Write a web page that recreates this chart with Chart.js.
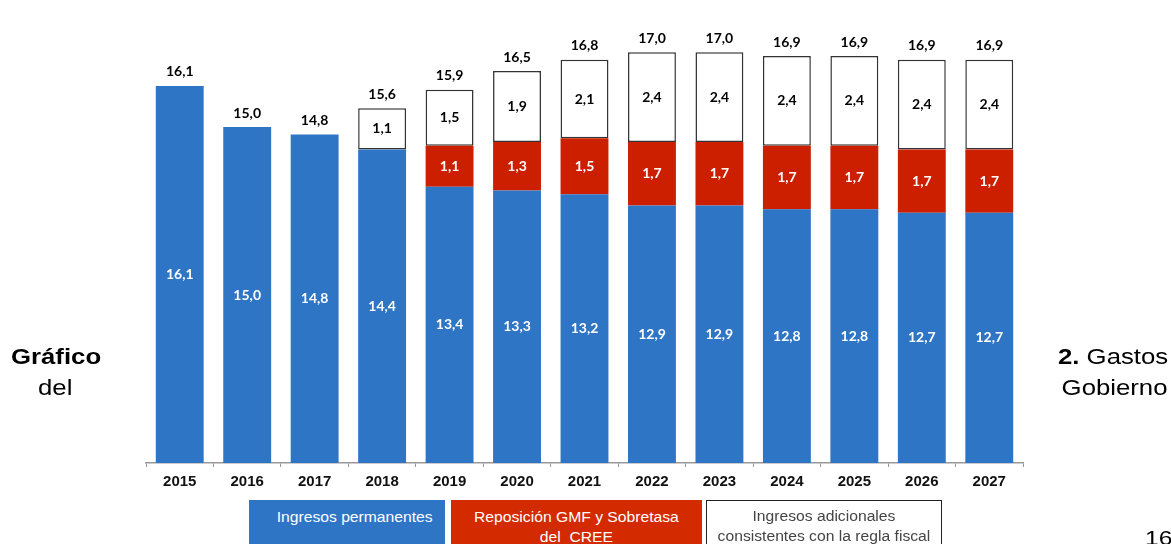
<!DOCTYPE html>
<html>
<head>
<meta charset="utf-8">
<script src="https://cdn.jsdelivr.net/npm/chart.js@4"></script>
<style>
  html, body { margin: 0; padding: 0; background: #fff; }
  body { width: 1171px; height: 544px; overflow: hidden; position: relative; font-family: "Liberation Sans", Arial, sans-serif; }
  #wrap { position: absolute; left: 0; top: 0; width: 1171px; height: 544px; }
  .side { position: absolute; font-size: 22px; color: #000; line-height: 1; transform: scaleX(1.17); }
  .side.l { transform-origin: left center; }
  .side.r { transform-origin: right center; }
  .legend-box { position: absolute; top: 500px; height: 60px; font-size: 14px; text-align: center; line-height: 20px; box-sizing: border-box; padding-top: 7px; }
  .legend-box span { display: inline-block; transform: scaleX(1.12); }
</style>
</head>
<body>
<div id="wrap"><canvas id="chart"></canvas></div>

<div class="side l" style="left:11px; top:346px; font-weight:bold;">Gráfico</div>
<div class="side l" style="left:38px; top:377px;">del</div>
<div class="side r" style="right:3px; top:346px;"><b>2.</b> Gastos</div>
<div class="side r" style="right:3px; top:377px;">Gobierno</div>
<div class="side l" style="left:1145px; top:527px; font-size:21px;">16</div>

<div class="legend-box" style="left:249px; width:196px; background:#2f75c5; color:#fff; padding-left:16px;"><span>Ingresos permanentes</span></div>
<div class="legend-box" style="left:451px; width:251px; background:#d42a00; color:#fff;"><span>Reposición GMF y Sobretasa<br>del&nbsp; CREE</span></div>
<div class="legend-box" style="left:706px; width:236px; border:1.5px solid #222; color:#444; padding-top:5px;"><span>Ingresos adicionales<br>consistentes con la regla fiscal</span></div>

<script>
document.addEventListener("DOMContentLoaded", () => {

  // ==============================
  // DATA
  // ==============================
  const years = ["2015", "2016", "2017", "2018", "2019", "2020", "2021", "2022", "2023", "2024", "2025", "2026", "2027"];
  const permanentes = [16.1, 15.0, 14.8, 14.4, 13.4, 13.3, 13.2, 12.9, 12.9, 12.8, 12.8, 12.7, 12.7];
  const reposicion = [null, null, null, null, 1.1, 1.3, 1.5, 1.7, 1.7, 1.7, 1.7, 1.7, 1.7];
  const adicionales = [null, null, null, 1.1, 1.5, 1.9, 2.1, 2.4, 2.4, 2.4, 2.4, 2.4, 2.4];
  const totales = [16.1, 15.0, 14.8, 15.6, 15.9, 16.5, 16.8, 17.0, 17.0, 16.9, 16.9, 16.9, 16.9];

  const fmt = v => v.toFixed(1).replace(".", ",");

  // ==============================
  // LABELS PLUGIN
  // ==============================
  const labelColors = ["#fff", "#fff", "#000"];

  const barLabels = {
    id: "barLabels",
    afterDatasetsDraw(chart) {
      const ctx = chart.ctx;
      const bottom = chart.chartArea.bottom;
      ctx.save();
      ctx.font = "bold 14px Lato, 'Open Sans', sans-serif";
      ctx.textAlign = "center";
      ctx.textBaseline = "middle";

      chart.data.datasets.forEach((ds, i) => {
        const meta = chart.getDatasetMeta(i);
        meta.data.forEach((bar, j) => {
          const v = ds.data[j];
          if (v === null) return;
          const base = Math.min(bar.base, bottom);
          ctx.fillStyle = labelColors[i];
          ctx.fillText(fmt(v), bar.x, (bar.y + base) / 2);
        });
      });

      // totals above each stack
      ctx.fillStyle = "#000";
      totales.forEach((t, j) => {
        let top = Infinity;
        chart.data.datasets.forEach((ds, i) => {
          if (ds.data[j] === null) return;
          const bar = chart.getDatasetMeta(i).data[j];
          top = Math.min(top, bar.y);
        });
        ctx.fillText(fmt(t), chart.getDatasetMeta(0).data[j].x, top - 14);
      });
      ctx.restore();
    }
  };

  // ==============================
  // CHART
  // ==============================
  const ctx = document.getElementById("chart");

  new Chart(ctx, {
    type: "bar",
    data: {
      labels: years,
      datasets: [
        {
          label: "Ingresos permanentes",
          data: permanentes,
          backgroundColor: "#2f75c5",
          borderWidth: 0
        },
        {
          label: "Reposición GMF y Sobretasa del CREE",
          data: reposicion,
          backgroundColor: "#cc1f00",
          borderWidth: 0
        },
        {
          label: "Ingresos adicionales consistentes con la regla fiscal",
          data: adicionales,
          backgroundColor: "#ffffff",
          borderColor: "#333",
          borderWidth: 1.5,
          borderSkipped: false
        }
      ]
    },
    options: {
      responsive: true,
      maintainAspectRatio: false,
      animation: false,
      layout: { padding: { left: 146, right: 148, top: 15, bottom: 47 } },
      plugins: {
        legend: { display: false },
        tooltip: { enabled: false }
      },
      datasets: {
        bar: { barPercentage: 0.71, categoryPercentage: 1 }
      },
      scales: {
        x: {
          stacked: true,
          grid: {
            drawOnChartArea: false,
            drawTicks: true,
            tickLength: 4,
            color: "#999"
          },
          border: { display: true, color: "#999", width: 1.5 },
          ticks: {
            color: "#111",
            padding: 6,
            font: { family: "'Liberation Sans', Arial, sans-serif", size: 15, weight: "bold" }
          }
        },
        y: {
          stacked: true,
          display: false,
          min: 6,
          max: 18
        }
      }
    },
    plugins: [barLabels]
  });

});
</script>
</body>
</html>
